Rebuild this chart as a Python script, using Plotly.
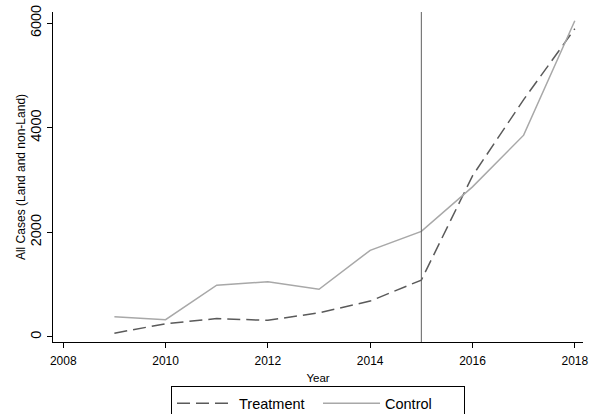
import plotly.graph_objects as go

years = [2009, 2010, 2011, 2012, 2013, 2014, 2015, 2016, 2017, 2018]
treatment = [72, 252, 350, 317, 460, 685, 1087, 3080, 4537, 5893]
control = [388, 330, 990, 1054, 912, 1656, 2019, 2870, 3858, 6045]
x_ticks = [2008, 2010, 2012, 2014, 2016, 2018]
y_ticks = [0, 2000, 4000, 6000]
treat_year = 2015

FONT = "Liberation Sans, Arial, sans-serif"

fig = go.Figure()
fig.add_trace(go.Scatter(x=years, y=treatment, mode="lines", name="Treatment",
                         line=dict(color="#5a5a5a", width=1.5, dash="13px,6px")))
fig.add_trace(go.Scatter(x=years, y=control, mode="lines", name="Control",
                         line=dict(color="#a8a8a8", width=1.5)))

fig.add_shape(type="line", xref="x", yref="paper", x0=treat_year, x1=treat_year,
              y0=0, y1=1, line=dict(color="#606060", width=1))

fig.update_layout(
    width=594, height=414,
    margin=dict(l=53, r=11, t=12, b=72, autoexpand=False),
    paper_bgcolor="white", plot_bgcolor="white",
    font=dict(family=FONT, color="black"),
    showlegend=True,
    legend=dict(orientation="h", x=0.5, xanchor="center", xref="paper",
                y=0.067, yanchor="top", yref="container",
                bordercolor="black", borderwidth=1, font=dict(size=14.5),
                itemwidth=57, entrywidth=74, tracegroupgap=0),
    xaxis=dict(range=[2007.8, 2018.16], tickvals=x_ticks, showgrid=False, zeroline=False,
               automargin=False,
               showline=True, linecolor="black", linewidth=1, ticks="outside",
               ticklen=5, tickcolor="black", tickfont=dict(size=12), ticklabelstandoff=3,
               title=dict(text="Year", font=dict(size=11.5), standoff=6)),
    yaxis=dict(range=[-97, 6213], tickvals=y_ticks, showgrid=False, zeroline=False,
               automargin=False,
               showline=True, linecolor="black", linewidth=1, ticks="outside",
               ticklen=5, tickcolor="black", tickfont=dict(size=14.5), tickangle=-90,
               title=dict(text="All Cases (Land and non-Land)", font=dict(size=12), standoff=0)),
)

fig.write_html("out.html", config={"displayModeBar": False},
               post_script="document.body.style.margin='0';")
